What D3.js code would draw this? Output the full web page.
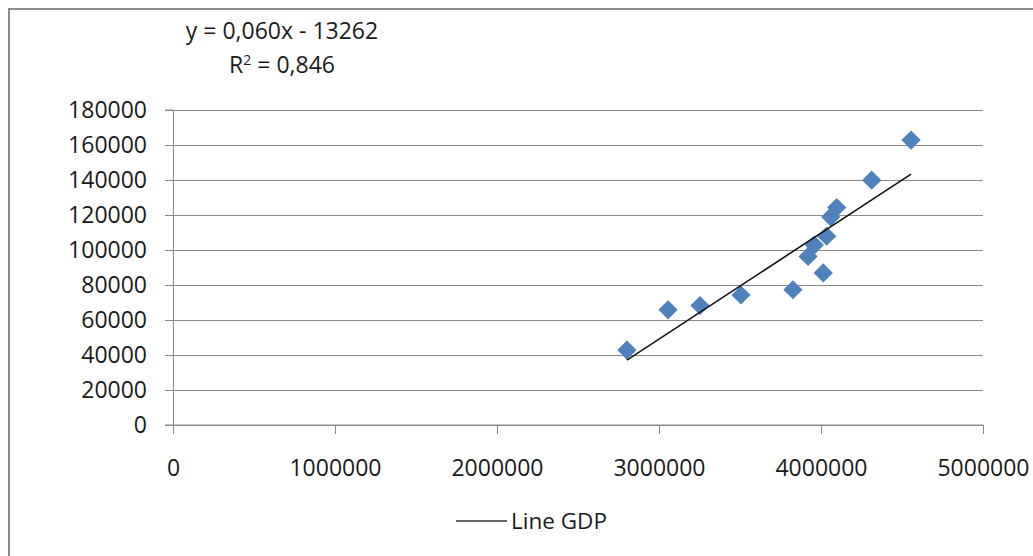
<!DOCTYPE html>
<html>
<head>
<meta charset="utf-8">
<script src="https://cdn.jsdelivr.net/npm/d3@7"></script>
<style>
  html, body { margin: 0; padding: 0; background: #fff; }
  svg { display: block; }
  text { font-family: "Open Sans", "Noto Sans", sans-serif; fill: #1a1a1a; }
</style>
</head>
<body>
<svg id="chart" width="1033" height="556"></svg>
<script>
// GDP (x) against the observed value (y), one entry per observation
const gdp = [2802000, 3056000, 3253000, 3506000, 3827000, 3920000, 3959000,
             4014000, 4035000, 4060000, 4097000, 4313000, 4556000];
const values = [42500, 65500, 68000, 74000, 77000, 96000, 102500,
                86600, 107600, 118600, 124000, 139600, 162500];

const xTicks = [0, 1000000, 2000000, 3000000, 4000000, 5000000];
const yTicks = [0, 20000, 40000, 60000, 80000, 100000, 120000, 140000, 160000, 180000];

const equationText = "y = 0,060x - 13262";
const r2Text = "0,846";
const legendLabel = "Line GDP";

const svg = d3.select("#chart");
const W = 1033, H = 556;

svg.append("rect").attr("width", W).attr("height", H).attr("fill", "#fff");
// outer chart frame
svg.append("rect")
  .attr("x", 9).attr("y", 9)
  .attr("width", W + 20).attr("height", H + 20)
  .attr("fill", "none").attr("stroke", "#8c8c8c").attr("stroke-width", 2);

const x = d3.scaleLinear().domain([0, 5000000]).range([173, 983]);
const y = d3.scaleLinear().domain([0, 180000]).range([424.5, 109.5]);

const gridColor = "#8a8a8a";

// horizontal gridlines (drawn via the y axis with full-width ticks)
const yAxis = svg.append("g")
  .attr("transform", `translate(${x(0)},0)`)
  .call(d3.axisLeft(y).tickValues(yTicks).tickSize(8).tickFormat(d => String(d)).tickPadding(18));
yAxis.select(".domain").attr("stroke", gridColor);
yAxis.selectAll(".tick line").attr("stroke", gridColor);
yAxis.selectAll(".tick text")
  .attr("font-size", 23).attr("font-family", "'Open Sans', sans-serif")
  .attr("fill", "#1a1a1a").attr("dy", "0.36em");
yAxis.selectAll(".tick").append("line")
  .attr("x1", 0).attr("x2", x(5000000) - x(0))
  .attr("stroke", gridColor).attr("shape-rendering", "crispEdges");
yAxis.selectAll("line").attr("shape-rendering", "crispEdges");

const xAxis = svg.append("g")
  .attr("transform", `translate(0,${y(0)})`)
  .call(d3.axisBottom(x).tickValues(xTicks).tickSize(9).tickFormat(d => String(d)).tickPadding(26));
xAxis.select(".domain").attr("stroke", gridColor).attr("d", `M${x(0)},0.5H${x(5000000)}`);
xAxis.selectAll(".tick line").attr("stroke", gridColor).attr("shape-rendering", "crispEdges");
xAxis.selectAll(".tick text")
  .attr("font-size", 23).attr("font-family", "'Open Sans', sans-serif")
  .attr("fill", "#1a1a1a").attr("dy", "0.72em");

// least-squares trend line over the data range
const pts = gdp.map((g, i) => ({ gx: g, vy: values[i] }));
const mx = d3.mean(pts, d => d.gx), my = d3.mean(pts, d => d.vy);
const slope = d3.sum(pts, d => (d.gx - mx) * (d.vy - my)) / d3.sum(pts, d => (d.gx - mx) ** 2);
const intercept = my - slope * mx;
const [xmin, xmax] = d3.extent(gdp);

const diamond = d3.symbol().type(d3.symbolSquare).size(185);
svg.append("g").selectAll("path")
  .data(pts)
  .join("path")
  .attr("d", diamond)
  .attr("transform", d => `translate(${x(d.gx)},${y(d.vy)}) rotate(45)`)
  .attr("fill", "#4f81bd");

svg.append("line")
  .attr("x1", x(xmin)).attr("y1", y(slope * xmin + intercept))
  .attr("x2", x(xmax)).attr("y2", y(slope * xmax + intercept))
  .attr("stroke", "#111").attr("stroke-width", 1.6);

// regression label
const eq = svg.append("g").attr("font-size", 23);
eq.append("text").attr("x", 282).attr("y", 39).attr("text-anchor", "middle").text(equationText);
const r2 = eq.append("text").attr("x", 282).attr("y", 73).attr("text-anchor", "middle");
r2.append("tspan").text("R");
r2.append("tspan").attr("dy", -8).attr("font-size", 14).text("2");
r2.append("tspan").attr("dy", 8).text(" = " + r2Text);

// legend
const lg = svg.append("g").attr("transform", "translate(456,521)");
lg.append("line").attr("x1", 0).attr("x2", 51).attr("y1", 0).attr("y2", 0)
  .attr("stroke", "#333").attr("stroke-width", 1.6);
lg.append("text").attr("x", 55).attr("y", 0).attr("dy", "0.36em")
  .attr("font-size", 22.5).text(legendLabel);
</script>
</body>
</html>
